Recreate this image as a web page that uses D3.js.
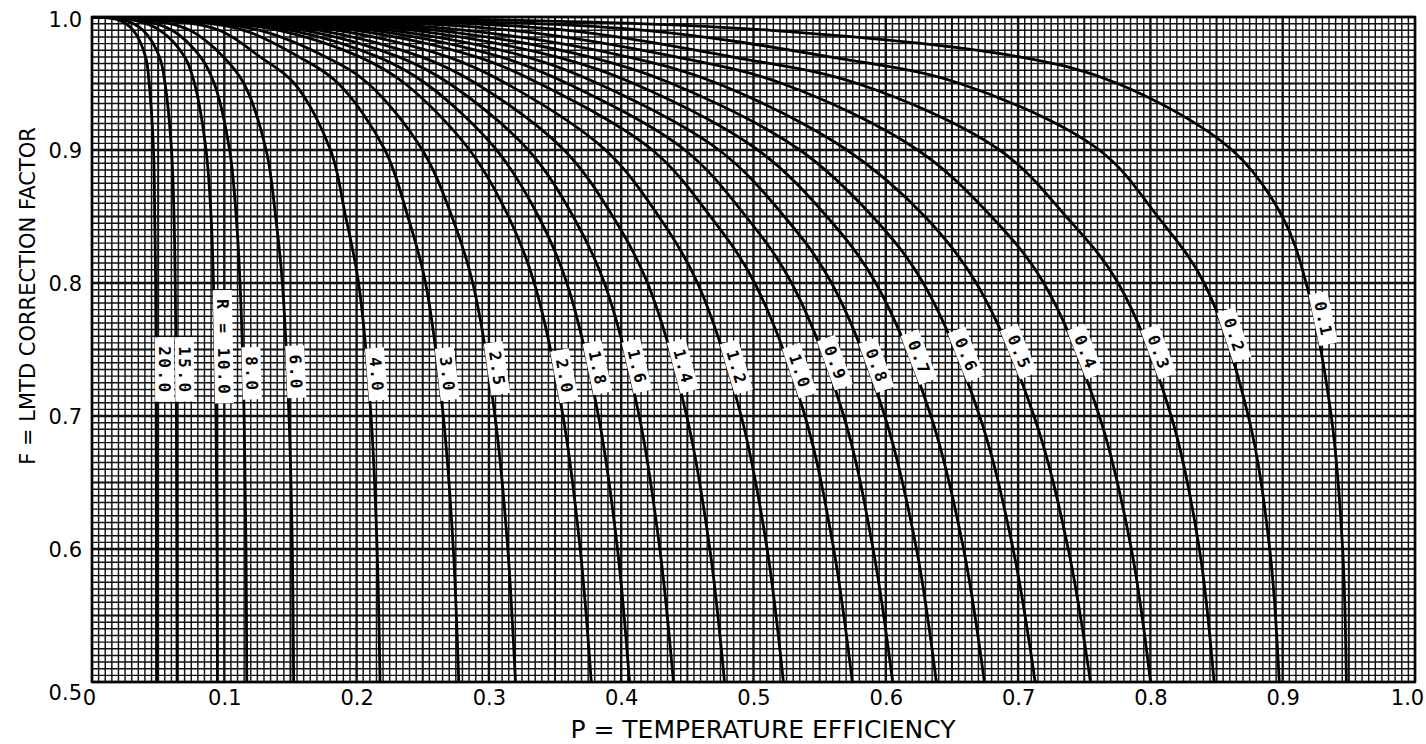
<!DOCTYPE html>
<html>
<head>
<meta charset="utf-8">
<script src="https://cdn.jsdelivr.net/npm/d3@7"></script>
<style>
  body { margin: 0; background: #fff; }
  svg { display: block; }
</style>
</head>
<body>
<script>
// R values of the curves (as labelled)
var rLabels = ["20.0", "15.0", "R = 10.0", "8.0", "6.0", "4.0", "3.0", "2.5", "2.0", "1.8", "1.6", "1.4",
               "1.2", "1.0", "0.9", "0.8", "0.7", "0.6", "0.5", "0.4", "0.3", "0.2", "0.1"];

var fLevels = [1.0, 0.998, 0.99, 0.97, 0.95, 0.9, 0.85, 0.8, 0.7, 0.6, 0.5];

// P read at each F level, one row per curve (same order as rLabels)
var curveP = [
  [0, 0.0195, 0.0312, 0.0405, 0.0432, 0.0465, 0.0474, 0.0481, 0.0485, 0.0487, 0.0488],
  [0, 0.0236, 0.0386, 0.0510, 0.0552, 0.0601, 0.0620, 0.0629, 0.0638, 0.0641, 0.0643],
  [0, 0.0300, 0.0513, 0.0701, 0.0775, 0.0862, 0.0900, 0.0918, 0.0937, 0.0945, 0.0948],
  [0, 0.0346, 0.0605, 0.0820, 0.0924, 0.1040, 0.1090, 0.1119, 0.1150, 0.1164, 0.1170],
  [0, 0.0408, 0.0740, 0.0994, 0.1148, 0.1316, 0.1388, 0.1439, 0.1489, 0.1514, 0.1524],
  [0, 0.0501, 0.0962, 0.1270, 0.1530, 0.1803, 0.1917, 0.2015, 0.2109, 0.2155, 0.2177],
  [0, 0.0584, 0.1148, 0.1564, 0.1862, 0.2214, 0.2387, 0.2521, 0.2655, 0.2731, 0.2772],
  [0, 0.0633, 0.1269, 0.1767, 0.2087, 0.2497, 0.2720, 0.2878, 0.3046, 0.3143, 0.3201],
  [0, 0.0688, 0.1413, 0.2025, 0.2365, 0.2854, 0.3148, 0.3343, 0.3560, 0.3690, 0.3774],
  [0, 0.0733, 0.1506, 0.2161, 0.2523, 0.3058, 0.3375, 0.3589, 0.3828, 0.3972, 0.4063],
  [0, 0.0789, 0.1609, 0.2318, 0.2701, 0.3298, 0.3637, 0.3873, 0.4136, 0.4292, 0.4395],
  [0, 0.0849, 0.1723, 0.2490, 0.2903, 0.3568, 0.3937, 0.4199, 0.4495, 0.4670, 0.4781],
  [0, 0.0920, 0.1855, 0.2690, 0.3131, 0.3881, 0.4285, 0.4577, 0.4907, 0.5103, 0.5226],
  [0, 0.0996, 0.1992, 0.2906, 0.3380, 0.4235, 0.4675, 0.5009, 0.5389, 0.5606, 0.5747],
  [0, 0.1060, 0.2126, 0.3088, 0.3593, 0.4481, 0.4943, 0.5288, 0.5682, 0.5904, 0.6052],
  [0, 0.1123, 0.2266, 0.3285, 0.3824, 0.4739, 0.5233, 0.5590, 0.5992, 0.6232, 0.6382],
  [0, 0.1198, 0.2431, 0.3513, 0.4095, 0.5033, 0.5554, 0.5924, 0.6341, 0.6588, 0.6745],
  [0, 0.1280, 0.2610, 0.3760, 0.4381, 0.5350, 0.5900, 0.6283, 0.6709, 0.6962, 0.7129],
  [0, 0.1375, 0.2826, 0.4049, 0.4729, 0.5706, 0.6295, 0.6684, 0.7120, 0.7379, 0.7547],
  [0, 0.1583, 0.3173, 0.4416, 0.5216, 0.6241, 0.6798, 0.7194, 0.7614, 0.7856, 0.8001],
  [0, 0.1843, 0.3592, 0.4838, 0.5785, 0.6860, 0.7363, 0.7756, 0.8157, 0.8370, 0.8481],
  [0, 0.2253, 0.4181, 0.5577, 0.6559, 0.7613, 0.8055, 0.8406, 0.8740, 0.8902, 0.8974],
  [0, 0.3002, 0.5130, 0.7011, 0.7752, 0.8617, 0.8997, 0.9177, 0.9367, 0.9453, 0.9481]
];

// F where each curve label sits
var labelF = [0.735, 0.735, 0.752, 0.732, 0.733, 0.731, 0.731, 0.735, 0.729, 0.735, 0.736, 0.736,
              0.735, 0.732, 0.738, 0.736, 0.742, 0.744, 0.746, 0.746, 0.746, 0.759, 0.772];

var xTicks = [0, 0.1, 0.2, 0.3, 0.4, 0.5, 0.6, 0.7, 0.8, 0.9, 1.0];
var yTicks = [0.5, 0.6, 0.7, 0.8, 0.9, 1.0];

var W = 1426, H = 744;
var plotL = 92, plotR = 1415, plotT = 17, plotB = 682;

var x = d3.scaleLinear().domain([0, 1]).range([plotL, plotR]);
var y = d3.scaleLinear().domain([0.5, 1]).range([plotB, plotT]);

var svg = d3.select("body").append("svg")
    .attr("width", W)
    .attr("height", H);

// graph paper
var grid = svg.append("g");
d3.range(0, 201).forEach(function(i){
  var w = i % 20 == 0 ? 2.4 : (i % 10 == 0 ? 2.0 : 1.45);
  grid.append("line")
      .attr("x1", x(i / 200)).attr("x2", x(i / 200))
      .attr("y1", plotT).attr("y2", plotB)
      .attr("stroke", "#111").attr("stroke-width", w);
});
d3.range(0, 101).forEach(function(j){
  var w = j % 20 == 0 ? 2.4 : (j % 10 == 0 ? 2.0 : 1.45);
  grid.append("line")
      .attr("x1", plotL).attr("x2", plotR)
      .attr("y1", y(0.5 + j / 200)).attr("y2", y(0.5 + j / 200))
      .attr("stroke", "#111").attr("stroke-width", w);
});

svg.append("defs").append("clipPath").attr("id", "plot")
  .append("rect").attr("x", plotL).attr("y", plotT)
  .attr("width", plotR - plotL).attr("height", plotB - plotT);

// curves
var line = d3.line()
    .x(function(d){ return x(d[0]); })
    .y(function(d){ return y(d[1]); })
    .curve(d3.curveCatmullRom.alpha(0.5));

var paths = svg.append("g").attr("clip-path", "url(#plot)")
  .selectAll("path.curve")
  .data(curveP)
  .enter().append("path")
    .attr("class", "curve")
    .attr("d", function(ps){ return line(ps.map(function(p, k){ return [p, fLevels[k]]; })); })
    .attr("fill", "none")
    .attr("stroke", "#000")
    .attr("stroke-width", 2.8);

// labels on curves
var labels = svg.append("g");
paths.each(function(ps, i){
  var node = this;
  var len = node.getTotalLength();
  var ty = y(labelF[i]);
  var lo = 0, hi = len;
  for (var k = 0; k < 40; k++) {
    var mid = (lo + hi) / 2;
    if (node.getPointAtLength(mid).y < ty) lo = mid; else hi = mid;
  }
  var pt = node.getPointAtLength(lo);
  var a = node.getPointAtLength(Math.max(0, lo - 6));
  var b = node.getPointAtLength(Math.min(len, lo + 6));
  var ang = Math.atan2(b.y - a.y, b.x - a.x) * 180 / Math.PI;

  var g = labels.append("g")
      .attr("transform", "translate(" + pt.x + "," + pt.y + ") rotate(" + ang + ")");
  var rect = g.append("rect").attr("fill", "#fff");
  var t = g.append("text")
      .text(rLabels[i])
      .attr("x", 1)
      .attr("y", -8.5)
      .attr("text-anchor", "middle")
      .attr("dominant-baseline", "central")
      .attr("font-family", "DejaVu Sans Mono")
      .attr("font-weight", "bold")
      .attr("font-size", 16)
      .attr("letter-spacing", 2.5)
      .attr("fill", "#000");
  var tw = t.node().getComputedTextLength() + 16;
  rect.attr("x", -tw / 2).attr("y", -18).attr("width", tw).attr("height", 19);
});

// frame
svg.append("rect")
    .attr("x", plotL).attr("y", plotT)
    .attr("width", plotR - plotL).attr("height", plotB - plotT)
    .attr("fill", "none").attr("stroke", "#000").attr("stroke-width", 2.4);

// axes
var xAxis = d3.axisBottom(x)
    .tickValues(xTicks)
    .tickSize(0)
    .tickPadding(8)
    .tickFormat(function(d){ return d == 0 ? "0" : d3.format(".1f")(d); });

var gx = svg.append("g")
    .attr("transform", "translate(0," + plotB + ")")
    .call(xAxis);
gx.select(".domain").remove();
gx.selectAll("text")
    .attr("font-family", "DejaVu Sans")
    .attr("font-size", 21)
    .attr("fill", "#000")
    .attr("dx", function(d){ return d == 1 ? -8 : (d == 0 ? -3 : 0); });

var yAxis = d3.axisLeft(y)
    .tickValues(yTicks)
    .tickSize(0)
    .tickPadding(10)
    .tickFormat(d3.format(".1f"));

var gy = svg.append("g")
    .attr("transform", "translate(" + plotL + ",0)")
    .call(yAxis);
gy.select(".domain").remove();
gy.selectAll("text")
    .attr("font-family", "DejaVu Sans")
    .attr("font-size", 21)
    .attr("fill", "#000")
    .attr("dy", function(d){ return d == 0.5 ? "0.85em" : (d == 1 ? "0.45em" : "0.36em"); });

// axis titles
svg.append("text")
    .text("P = TEMPERATURE EFFICIENCY")
    .attr("x", 763)
    .attr("y", 738)
    .attr("text-anchor", "middle")
    .attr("font-family", "DejaVu Sans")
    .attr("font-size", 25)
    .attr("fill", "#000");

svg.append("text")
    .text("F = LMTD CORRECTION FACTOR")
    .attr("transform", "translate(35,296) rotate(-90)")
    .attr("text-anchor", "middle")
    .attr("font-family", "DejaVu Sans")
    .attr("font-size", 21)
    .attr("fill", "#000");
</script>
</body>
</html>
